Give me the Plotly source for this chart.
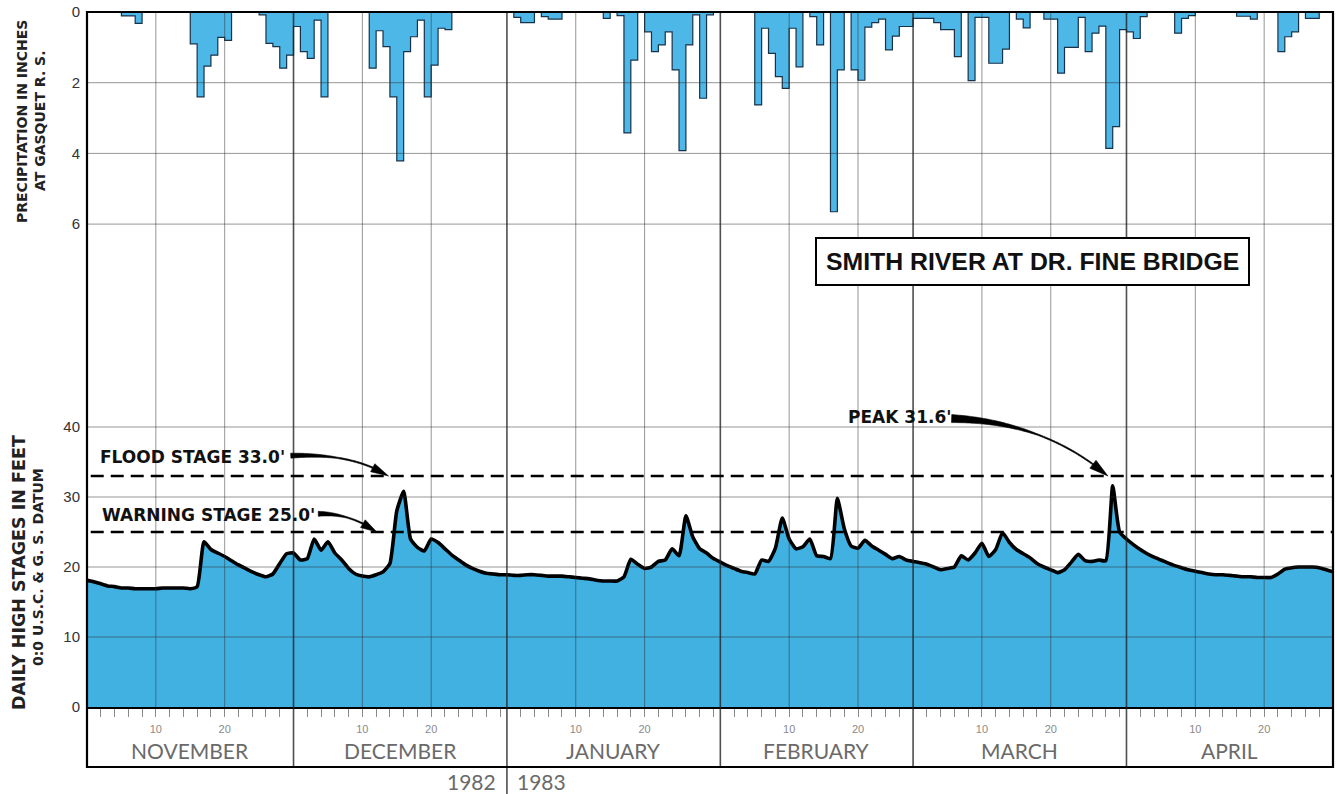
import numpy as np
import plotly.graph_objects as go

# ---------------------------------------------------------------- data
MONTHS = ["NOVEMBER", "DECEMBER", "JANUARY", "FEBRUARY", "MARCH", "APRIL"]
MONTH_LENGTHS = [30, 31, 31, 28, 31, 30]
DAY_LABELS = [10, 20]
YEAR_LEFT, YEAR_RIGHT = "1982", "1983"

# daily precipitation at Gasquet R.S., inches (one value per day of month)
PRECIP_NOV = [0, 0, 0, 0, 0, 0.11, 0.11, 0.32, 0, 0,
              0, 0, 0, 0, 0, 0.90, 2.40, 1.53, 1.22, 0.72,
              0.80, 0, 0, 0, 0, 0.08, 0.89, 0.98, 1.59, 1.22]
PRECIP_DEC = [0.41, 1.12, 1.31, 0.23, 2.40, 0, 0, 0, 0, 0,
              0, 1.59, 0.53, 0.98, 2.40, 4.21, 1.12, 0.70, 0.23, 2.40,
              1.50, 0.46, 0.50, 0, 0, 0, 0, 0, 0, 0, 0]
PRECIP_JAN = [0, 0.15, 0.30, 0.30, 0, 0.13, 0.20, 0.20, 0, 0,
              0, 0, 0, 0, 0.18, 0, 0.10, 3.42, 1.36, 0,
              0.56, 1.12, 0.93, 0.56, 1.64, 3.92, 0.93, 0.08, 2.44, 0.08, 0]
PRECIP_FEB = [0, 0, 0, 0, 0, 2.63, 0.46, 1.17, 1.83, 2.16,
              0.46, 1.55, 0, 0.13, 0.93, 0, 5.65, 1.64, 0, 1.64,
              1.93, 0.43, 0.30, 0.20, 1.07, 0.68, 0.41, 0.41]
PRECIP_MAR = [0.18, 0.18, 0.18, 0.30, 0.50, 0.50, 1.26, 0, 1.94, 0.15,
              0.15, 1.45, 1.45, 1.05, 0, 0.20, 0.45, 0, 0, 0.20,
              0.20, 1.73, 1.00, 1.00, 0.15, 1.12, 0.60, 0.40, 3.86, 3.24, 0.50]
PRECIP_APR = [0.56, 0.75, 0.13, 0, 0, 0, 0, 0.60, 0.18, 0.10,
              0, 0, 0, 0, 0, 0, 0.12, 0.12, 0.20, 0,
              0, 0, 1.12, 0.70, 0.56, 0, 0.18, 0.18, 0, 0]

# daily high stage, feet (0:0 U.S.C. & G.S. datum)
STAGE_OCT31 = 18.1
STAGE_NOV = [17.9, 17.6, 17.3, 17.2, 17.0, 17.0, 16.9, 16.9, 16.9, 16.9,
             17.0, 17.0, 17.0, 17.0, 16.9, 17.2, 23.6, 22.5, 22.0, 21.5,
             20.9, 20.3, 19.8, 19.3, 18.9, 18.6, 19.0, 20.5, 21.9, 22.0]
STAGE_DEC = [21.0, 21.2, 24.0, 22.4, 23.6, 22.0, 21.0, 19.8, 19.0, 18.7,
             18.6, 18.9, 19.3, 20.5, 28.0, 30.8, 24.0, 22.8, 22.3, 24.0,
             23.5, 22.6, 21.7, 21.0, 20.3, 19.8, 19.4, 19.1, 19.0, 18.9, 18.9]
STAGE_JAN = [18.8, 18.8, 18.9, 18.9, 18.8, 18.7, 18.7, 18.7, 18.6, 18.5,
             18.4, 18.3, 18.1, 18.0, 18.0, 18.0, 18.6, 21.1, 20.4, 19.8,
             20.0, 20.8, 21.0, 22.6, 21.6, 27.3, 24.3, 22.6, 22.0, 21.2, 20.7]
STAGE_FEB = [20.2, 19.8, 19.4, 19.2, 19.0, 21.0, 20.8, 22.7, 27.0, 24.0,
             22.6, 22.9, 24.0, 21.6, 21.5, 21.2, 29.8, 25.5, 23.0, 22.7,
             23.8, 23.0, 22.4, 21.8, 21.2, 21.5, 21.0, 20.8]
STAGE_MAR = [20.6, 20.4, 20.0, 19.6, 19.8, 20.0, 21.6, 21.0, 22.0, 23.4,
             21.5, 22.5, 24.9, 23.5, 22.5, 21.9, 21.3, 20.5, 20.0, 19.6,
             19.2, 19.6, 20.7, 21.8, 20.9, 20.8, 21.0, 20.9, 31.6, 25.0, 24.0]
STAGE_APR = [23.2, 22.5, 21.9, 21.4, 21.0, 20.6, 20.2, 19.9, 19.6, 19.4,
             19.2, 19.0, 18.9, 18.9, 18.8, 18.7, 18.6, 18.6, 18.5, 18.5,
             18.5, 19.0, 19.7, 19.9, 20.0, 20.0, 20.0, 19.9, 19.6, 19.3]

FLOOD_STAGE = 33.0
WARNING_STAGE = 25.0
STATION = "SMITH RIVER AT DR. FINE BRIDGE"

precip = PRECIP_NOV + PRECIP_DEC + PRECIP_JAN + PRECIP_FEB + PRECIP_MAR + PRECIP_APR
stage = [STAGE_OCT31] + STAGE_NOV + STAGE_DEC + STAGE_JAN + STAGE_FEB + STAGE_MAR + STAGE_APR
peak_stage = max(stage)

# day position: 0 = end of Oct 31, n = end of the n-th day of the season
stage_x = np.arange(len(stage))
bar_edges = np.arange(len(precip) + 1)
month_starts = np.concatenate([[0], np.cumsum(MONTH_LENGTHS)])
n_days = int(month_starts[-1])

# ---------------------------------------------------------------- geometry
W, H = 1337, 794
ML, MR, MT, MB = 87, 4, 12, 27
PLOT_W = W - ML - MR
PLOT_H = H - MT - MB
LABEL_BAND = 60                      # px below the zero-stage line
SPAN = PLOT_H - LABEL_BAND           # px used by both value scales
PX_PER_FT = 7.0
PX_PER_IN = 35.35
PX_PER_DAY = PLOT_W / n_days
Y_DOM = [LABEL_BAND / PLOT_H, 1.0]
STAGE_RANGE = [0, SPAN / PX_PER_FT]
PRECIP_RANGE = [SPAN / PX_PER_IN, 0]


def paper_y(py):
    return (H - MB - py) / PLOT_H


def paper_x(px):
    return (px - ML) / PLOT_W


BLUE_FILL = "#41b1e2"
BAR_FILL = "#4db7e7"
BAR_EDGE = "#18324a"
GRID = "rgba(45,45,45,0.50)"
MONTH_LINE = "rgba(35,35,35,0.80)"
BOLD = "DejaVu Sans"
LABEL_FONT = "Lato"

fig = go.Figure()

fig.add_trace(go.Scatter(
    x=bar_edges, y=precip + [precip[-1]], yaxis="y2", mode="lines",
    line=dict(shape="hv", color=BAR_EDGE, width=1.2),
    fill="tozeroy", fillcolor=BAR_FILL, hoverinfo="skip", showlegend=False))

fig.add_trace(go.Scatter(
    x=stage_x, y=stage, yaxis="y", mode="lines",
    line=dict(color="black", width=3.6, shape="spline", smoothing=0.5),
    fill="tozeroy", fillcolor=BLUE_FILL, hoverinfo="skip", showlegend=False))

# ---------------------------------------------------------------- grid
shapes = []
for v in [10, 20, 30, 40]:
    shapes.append(dict(type="line", xref="paper", yref="y", x0=0, x1=1, y0=v, y1=v,
                       line=dict(color=GRID, width=1), layer="above"))
for v in [2, 4, 6]:
    shapes.append(dict(type="line", xref="paper", yref="y2", x0=0, x1=1, y0=v, y1=v,
                       line=dict(color=GRID, width=1), layer="above"))
for m in range(len(MONTHS)):
    for d in DAY_LABELS:
        t = month_starts[m] + d
        shapes.append(dict(type="line", xref="x", yref="paper", x0=t, x1=t,
                           y0=Y_DOM[0], y1=1, line=dict(color=GRID, width=1), layer="above"))
for m in range(1, len(MONTHS)):
    t = month_starts[m]
    y_low = paper_y(H) if MONTHS[m] == "JANUARY" else 0
    shapes.append(dict(type="line", xref="x", yref="paper", x0=t, x1=t,
                       y0=y_low, y1=1, line=dict(color=MONTH_LINE, width=1.6), layer="above"))

# flood / warning stage lines
for v in [FLOOD_STAGE, WARNING_STAGE]:
    shapes.append(dict(type="line", xref="paper", yref="y", x0=0.003, x1=1, y0=v, y1=v,
                       line=dict(color="black", width=2.6, dash="13px,7px"), layer="above"))


def curved_arrow(p0, p1, p2, tail_w, thin_w, taper, head_len, head_w):
    """Tapered quadratic-curve arrow, returned as two filled SVG paths in data units."""
    scale = np.array([PX_PER_DAY, PX_PER_FT])
    P = np.array([p0, p1, p2], float) * scale
    s = np.linspace(0, 1, 80)
    pts = (((1 - s) ** 2)[:, None] * P[0] + (2 * (1 - s) * s)[:, None] * P[1]
           + (s ** 2)[:, None] * P[2])
    keep = np.hypot(*(pts - P[2]).T) >= head_len
    shaft, ss = pts[keep], s[keep]
    tan = np.gradient(shaft, axis=0)
    tan /= np.linalg.norm(tan, axis=1)[:, None]
    nrm = np.stack([-tan[:, 1], tan[:, 0]], 1)
    w = np.where(ss < taper, tail_w + (thin_w - tail_w) * ss / taper, thin_w)
    poly = np.vstack([shaft + nrm * w[:, None] / 2, (shaft - nrm * w[:, None] / 2)[::-1]])
    base = shaft[-1]
    u = (P[2] - base) / np.linalg.norm(P[2] - base)
    n = np.array([-u[1], u[0]])
    head = np.array([P[2], base + n * head_w / 2, base - n * head_w / 2])

    def to_path(a):
        a = a / scale
        return "M " + " L ".join(f"{x:.3f},{y:.3f}" for x, y in a) + " Z"

    style = dict(type="path", xref="x", yref="y", fillcolor="black",
                 line=dict(width=0.6, color="black"), layer="above")
    return [dict(path=to_path(poly), **style), dict(path=to_path(head), **style)]


shapes += curved_arrow((29.6, 35.9), (38.5, 36.3), (43.8, FLOOD_STAGE), 5.0, 1.4, 0.40, 17, 9)
shapes += curved_arrow((33.6, 27.6), (38.2, 27.7), (42.1, WARNING_STAGE), 5.0, 1.4, 0.45, 16, 9)
shapes += curved_arrow((125.6, 41.2), (139.0, 40.8), (148.3, FLOOD_STAGE), 8.0, 1.3, 0.50, 18, 10)

# plot frame
shapes.append(dict(type="rect", xref="paper", yref="paper", x0=0, x1=1, y0=0, y1=1,
                   line=dict(color="black", width=2.2), layer="above"))

# ---------------------------------------------------------------- text
ann = []
ann.append(dict(text=f"FLOOD STAGE {FLOOD_STAGE:.1f}'", x=1.6, y=35.7, xref="x", yref="y",
                xanchor="left", yanchor="middle", showarrow=False,
                font=dict(family=BOLD, size=17, color="#111", weight="bold")))
ann.append(dict(text=f"WARNING STAGE {WARNING_STAGE:.1f}'", x=1.9, y=27.4, xref="x", yref="y",
                xanchor="left", yanchor="middle", showarrow=False,
                font=dict(family=BOLD, size=17, color="#111", weight="bold")))
ann.append(dict(text=f"PEAK {peak_stage:.1f}'", x=110.2, y=41.4, xref="x", yref="y",
                xanchor="left", yanchor="middle", showarrow=False,
                font=dict(family=BOLD, size=17, color="#111", weight="bold")))
ann.append(dict(text=STATION, x=137.4, y=63.6, xref="x", yref="y",
                xanchor="center", yanchor="middle", showarrow=False,
                bgcolor="white", bordercolor="black", borderwidth=2, borderpad=9,
                font=dict(family="Liberation Sans", size=24.8, color="#111", weight="bold")))

# axis titles
ann.append(dict(text="PRECIPITATION IN INCHES", x=paper_x(22), y=paper_y(122), xref="paper",
                yref="paper", textangle=-90, showarrow=False, xanchor="center", yanchor="middle",
                font=dict(family=BOLD, size=14, color="#222", weight="bold")))
ann.append(dict(text="AT GASQUET R. S.", x=paper_x(40), y=paper_y(121), xref="paper",
                yref="paper", textangle=-90, showarrow=False, xanchor="center", yanchor="middle",
                font=dict(family=BOLD, size=14, color="#222", weight="bold")))
ann.append(dict(text="DAILY HIGH STAGES IN FEET", x=paper_x(19), y=paper_y(573), xref="paper",
                yref="paper", textangle=-90, showarrow=False, xanchor="center", yanchor="middle",
                font=dict(family=BOLD, size=17.5, color="#222", weight="bold")))
ann.append(dict(text="0:0 U.S.C. & G. S. DATUM", x=paper_x(38), y=paper_y(567), xref="paper",
                yref="paper", textangle=-90, showarrow=False, xanchor="center", yanchor="middle",
                font=dict(family=BOLD, size=14, color="#222", weight="bold")))

# month names and years
for m, name in enumerate(MONTHS):
    ann.append(dict(text=name, x=month_starts[m] + MONTH_LENGTHS[m] / 2, y=paper_y(750),
                    xref="x", yref="paper", showarrow=False, xanchor="center", yanchor="middle",
                    font=dict(family=LABEL_FONT, size=21, color="#6a6a6a")))
jan = month_starts[MONTHS.index("JANUARY")]
ann.append(dict(text=YEAR_LEFT, x=jan, y=paper_y(781), xref="x", yref="paper", showarrow=False,
                xanchor="right", yanchor="middle", xshift=-9,
                font=dict(family=LABEL_FONT, size=21, color="#6a6a6a")))
ann.append(dict(text=YEAR_RIGHT, x=jan, y=paper_y(781), xref="x", yref="paper", showarrow=False,
                xanchor="left", yanchor="middle", xshift=8,
                font=dict(family=LABEL_FONT, size=21, color="#6a6a6a")))

# day ticks every second day, numbered at 10 and 20
tickvals, ticktext = [], []
for m, n in enumerate(MONTH_LENGTHS):
    for d in range(2, n, 2):
        tickvals.append(month_starts[m] + d)
        ticktext.append(str(d) if d in DAY_LABELS else "")

axis_font = dict(family="Liberation Sans", size=15, color="#333")
fig.update_layout(
    width=W, height=H,
    margin=dict(l=ML, r=MR, t=MT, b=MB, pad=0),
    paper_bgcolor="white", plot_bgcolor="white",
    showlegend=False,
    xaxis=dict(range=[0, n_days], domain=[0, 1], anchor="y",
               tickmode="array", tickvals=tickvals, ticktext=ticktext,
               ticks="outside", ticklen=8, tickwidth=1, tickcolor="#8a8a8a",
               tickfont=dict(family="Liberation Sans", size=11, color="#8a8a8a"),
               ticklabelstandoff=3,
               showline=True, linecolor="black", linewidth=2.4,
               showgrid=False, zeroline=False, fixedrange=True),
    yaxis=dict(range=STAGE_RANGE, domain=Y_DOM, tickmode="array",
               tickvals=[0, 10, 20, 30, 40], ticks="", tickfont=axis_font,
               ticklabelstandoff=6,
               showline=False, showgrid=False, zeroline=False, fixedrange=True),
    yaxis2=dict(range=PRECIP_RANGE, overlaying="y", anchor="x", side="left",
                tickmode="array", tickvals=[0, 2, 4, 6], ticks="", tickfont=axis_font,
                ticklabelstandoff=6,
                showline=False, showgrid=False, zeroline=False, fixedrange=True),
    shapes=shapes,
    annotations=ann,
)

fig.write_html("out.html", config={"displayModeBar": False})
